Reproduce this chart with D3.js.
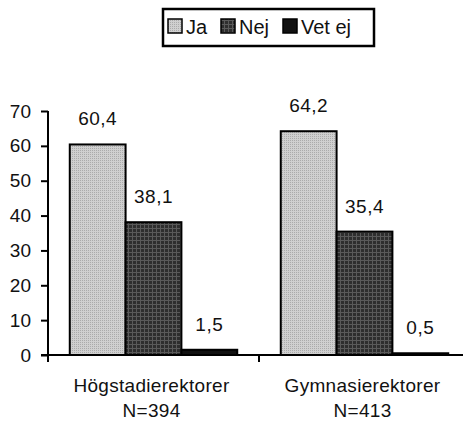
<!DOCTYPE html>
<html>
<head>
<meta charset="utf-8">
<script src="https://cdn.jsdelivr.net/npm/d3@7"></script>
<style>
  body { margin: 0; background: #fff; }
  svg { display: block; font-family: "Liberation Sans", Arial, sans-serif; }
</style>
</head>
<body>
<div id="chart"></div>
<script>
const groups = ["Högstadierektorer", "Gymnasierektorer"];
const groupN = ["N=394", "N=413"];
const series = ["Ja", "Nej", "Vet ej"];
const valuesJa = [60.4, 64.2];
const valuesNej = [38.1, 35.4];
const valuesVetEj = [1.5, 0.5];
const yTicks = [0, 10, 20, 30, 40, 50, 60, 70];

(function() {
  const width = 463, height = 421;
  const seriesValues = [valuesJa, valuesNej, valuesVetEj];
  const fills = ["url(#patJa)", "url(#patNej)", "#111"];
  const fmt = v => d3.format(".1f")(v).replace(".", ",");

  const svg = d3.select('#chart').append('svg')
    .attr('width', width).attr('height', height);

  // textures like the scanned print
  const defs = svg.append('defs');
  const pJa = defs.append('pattern').attr('id', 'patJa')
    .attr('patternUnits', 'userSpaceOnUse').attr('width', 2).attr('height', 2);
  pJa.append('rect').attr('width', 2).attr('height', 2).attr('fill', '#d0d0d0');
  pJa.append('rect').attr('width', 1).attr('height', 1).attr('fill', '#ababab');
  const pNej = defs.append('pattern').attr('id', 'patNej')
    .attr('patternUnits', 'userSpaceOnUse').attr('width', 4).attr('height', 4);
  pNej.append('rect').attr('width', 4).attr('height', 4).attr('fill', '#2e2e2e');
  pNej.append('rect').attr('width', 4).attr('height', 1).attr('fill', '#5a5a5a');
  pNej.append('rect').attr('width', 1).attr('height', 4).attr('fill', '#5a5a5a');

  const y = d3.scaleLinear().domain([0, 70]).range([355, 111]);
  const x0 = d3.scaleBand().domain(groups).range([48, 470]);
  const x1 = d3.scaleBand().domain(series).range([0, x0.bandwidth()]).paddingOuter(0.39);

  // bars
  groups.forEach((g, gi) => {
    series.forEach((s, si) => {
      const v = seriesValues[si][gi];
      const bx = x0(g) + x1(s);
      svg.append('rect')
        .attr('x', bx).attr('y', y(v))
        .attr('width', x1.bandwidth()).attr('height', y(0) - y(v))
        .attr('fill', fills[si])
        .attr('stroke', '#000').attr('stroke-width', 2);
      svg.append('text')
        .attr('x', bx + x1.bandwidth() / 2)
        .attr('y', y(v) - 19)
        .attr('text-anchor', 'middle')
        .attr('font-size', 19).attr('letter-spacing', 0.5).attr('fill', '#111')
        .text(fmt(v));
    });
  });

  // y axis
  const yAxis = svg.append('g')
    .attr('transform', 'translate(48,0)')
    .call(d3.axisLeft(y).tickValues(yTicks).tickSize(7).tickPadding(10).tickFormat(d3.format('d')));
  yAxis.select('.domain').remove();
  yAxis.selectAll('line').attr('stroke', '#000').attr('stroke-width', 2);
  yAxis.selectAll('text').attr('font-size', 19).attr('fill', '#111')
    .attr('font-family', '"Liberation Sans", Arial, sans-serif');
  svg.append('line').attr('x1', 48).attr('x2', 48).attr('y1', y(70)).attr('y2', y(0) + 7)
    .attr('stroke', '#000').attr('stroke-width', 2);

  // x axis
  svg.append('line').attr('x1', 41).attr('x2', width).attr('y1', y(0)).attr('y2', y(0))
    .attr('stroke', '#000').attr('stroke-width', 2);
  groups.forEach(g => {
    const tx = x0(g) + x0.bandwidth();
    svg.append('line').attr('x1', tx).attr('x2', tx).attr('y1', y(0)).attr('y2', y(0) + 7)
      .attr('stroke', '#000').attr('stroke-width', 2);
  });
  groups.forEach((g, gi) => {
    const cx = x0(g) + x0.bandwidth() / 2 - 2;
    const t = svg.append('text').attr('text-anchor', 'middle')
      .attr('font-size', 19).attr('fill', '#111').attr('letter-spacing', 0.3);
    t.append('tspan').attr('x', cx).attr('y', 392).text(g);
    t.append('tspan').attr('x', cx).attr('y', 417).text(groupN[gi]);
  });

  // legend
  const lg = svg.append('g');
  lg.append('rect').attr('x', 163).attr('y', 9).attr('width', 211).attr('height', 37)
    .attr('fill', '#fff').attr('stroke', '#000').attr('stroke-width', 2.5);
  const legX = [168, 221, 283];
  series.forEach((s, i) => {
    lg.append('rect').attr('x', legX[i]).attr('y', 19).attr('width', 14).attr('height', 14)
      .attr('fill', fills[i]).attr('stroke', '#000').attr('stroke-width', 1.5);
    lg.append('text').attr('x', legX[i] + 18).attr('y', 34)
      .attr('font-size', 20).attr('fill', '#111').text(s);
  });
})();
</script>
</body>
</html>
